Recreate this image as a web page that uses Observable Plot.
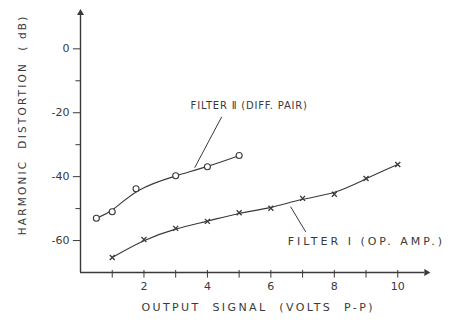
<!DOCTYPE html>
<html>
<head>
<meta charset="utf-8">
<script src="https://cdn.jsdelivr.net/npm/d3@7"></script>
<script src="https://cdn.jsdelivr.net/npm/@observablehq/plot@0.6"></script>
<style>
  html, body { margin: 0; padding: 0; background: #fff; }
  #chart { width: 450px; height: 324px; }
  svg text { font-family: "DejaVu Sans", sans-serif; }
  .xt text { letter-spacing: 2.4px; }
  .yt text { letter-spacing: 2.2px; }
  .lab2 text { letter-spacing: 0.8px; }
  .lab1 text { letter-spacing: 3px; }
</style>
</head>
<body>
<div id="chart"></div>
<script>
// Filter II (differential pair) – open circles
const filter2X = [0.5, 1, 1.75, 3, 4, 5];
const filter2Y = [-53, -51, -43.8, -39.7, -36.9, -33.4];
// Filter I (op. amp.) – crosses
const filter1X = [1, 2, 3, 4, 5, 6, 7, 8, 9, 10];
const filter1Y = [-65.3, -59.7, -56.2, -54, -51.3, -49.9, -46.8, -45.5, -40.6, -36.2];
// axis ticks
const yMajorTicks = [0, -20, -40, -60];
const yMinorTicks = [-10, -30, -50];
const xTicks = [1, 2, 3, 4, 5, 6, 7, 8, 9, 10];
const xLabelTicks = [2, 4, 6, 8, 10];
const labelFilter2 = "FILTER \u2161 (DIFF. PAIR)";
const labelFilter1 = "FILTER \u2160 (OP. AMP.)";
const xTitle = "OUTPUT  SIGNAL  (VOLTS  P-P)";
const yTitle = "HARMONIC  DISTORTION  ( dB)";

const f2 = filter2X.map((x, i) => ({x, y: filter2Y[i]}));
const f1 = filter1X.map((x, i) => ({x, y: filter1Y[i]}));

const ink = "#3a3a3a";

const chart = Plot.plot({
  width: 450,
  height: 324,
  marginLeft: 80,
  marginRight: 21,
  marginTop: 10,
  marginBottom: 52,
  style: {background: "#fff", color: ink, fontFamily: "DejaVu Sans, sans-serif"},
  x: {domain: [0, 11], axis: null},
  y: {domain: [-70, 12], axis: null},
  marks: [
    // axes lines
    Plot.ruleX([0], {y1: -70, y2: 11, stroke: ink, strokeWidth: 1.4}),
    Plot.ruleY([-70], {x1: 0, x2: 10.85, stroke: ink, strokeWidth: 1.4}),
    Plot.dot([{x: 0, y: 11.2}], {x: "x", y: "y", symbol: "triangle", r: 2.6, fill: ink, stroke: null}),
    Plot.dot([{x: 10.9, y: -70}], {x: "x", y: "y", symbol: "triangle", r: 2.6, fill: ink, stroke: null, rotate: 90}),
    // y axis
    Plot.link(yMajorTicks, {x1: -0.24, x2: 0, y1: d => d, y2: d => d, stroke: ink, strokeWidth: 1}),
    Plot.link(yMinorTicks, {x1: -0.16, x2: 0, y1: d => d, y2: d => d, stroke: ink, strokeWidth: 1}),
    Plot.text(yMajorTicks, {x: 0, y: d => d, dx: -11, textAnchor: "end", text: d => d === 0 ? "0" : "-" + Math.abs(d), fontSize: 11, fill: ink}),
    // x axis
    Plot.link(xTicks, {x1: d => d, x2: d => d, y1: -69.2, y2: -71.6, stroke: ink, strokeWidth: 1}),
    Plot.text(xLabelTicks, {x: d => d, y: -70, dy: 14, text: d => String(d), fontSize: 11, fill: ink}),
    // axis titles
    Plot.text([xTitle], {x: 5.6, y: -80.9, text: d => d, fontSize: 11, fill: ink, className: "xt"}),
    Plot.text([yTitle], {x: -1.83, y: -23.8, rotate: -90, text: d => d, fontSize: 10.5, fill: ink, className: "yt"}),
    // curves
    Plot.line(f2, {x: "x", y: "y", curve: "basis", stroke: ink, strokeWidth: 1.1}),
    Plot.line(f1, {x: "x", y: "y", curve: "basis", stroke: ink, strokeWidth: 1.1}),
    Plot.dot(f2, {x: "x", y: "y", r: 3, fill: "#fff", stroke: ink, strokeWidth: 1.1}),
    Plot.dot(f1, {x: "x", y: "y", symbol: "times", r: 2.4, stroke: ink, strokeWidth: 1.3}),
    // annotations
    Plot.link([{x1: 4.45, y1: -21.3, x2: 3.6, y2: -37.2}], {x1: "x1", y1: "y1", x2: "x2", y2: "y2", stroke: ink, strokeWidth: 1}),
    Plot.link([{x1: 6.62, y1: -49.4, x2: 7.1, y2: -57.3}], {x1: "x1", y1: "y1", x2: "x2", y2: "y2", stroke: ink, strokeWidth: 1}),
    Plot.text([labelFilter2], {x: 3.47, y: -17.8, text: d => d, textAnchor: "start", fontSize: 10, fill: ink, className: "lab2"}),
    Plot.text([labelFilter1], {x: 6.53, y: -60.3, text: d => d, textAnchor: "start", fontSize: 11, fill: ink, className: "lab1"})
  ]
});
document.getElementById("chart").appendChild(chart);
</script>
</body>
</html>
